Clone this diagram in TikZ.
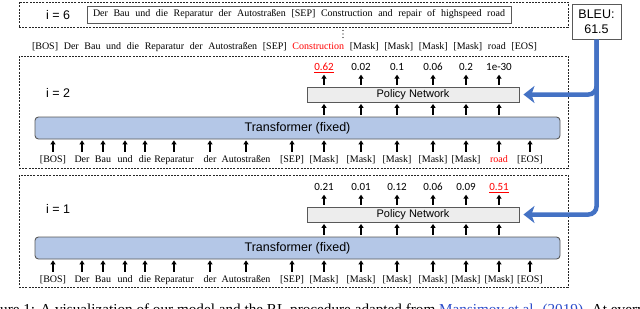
\documentclass[tikz,border=0pt]{standalone}
\usepackage{fontspec}
\setmainfont{Liberation Serif}
\setsansfont{Liberation Sans}
\newfontfamily\probfont{Carlito}
\usetikzlibrary{arrows.meta}
\definecolor{transblue}{HTML}{B4C7E7}
\definecolor{policygray}{HTML}{EDEDED}
\definecolor{boxgray}{HTML}{595959}
\definecolor{bleublue}{HTML}{4472C4}
\definecolor{tokred}{HTML}{FF0000}
\definecolor{citeblue}{HTML}{2A4BC9}

\begin{document}
\begin{tikzpicture}[
  x=1pt, y=-1pt,
  stepframe/.style={
    draw=black!85,
    dash pattern=on 2pt off 1.2pt,
    line width=0.7pt,
    minimum width=549pt,
    inner sep=0pt
  },
  steplabel/.style={
    font=\sffamily\fontsize{12.5}{15}\selectfont,
    inner sep=0pt
  },
  tok/.style={
    font=\fontsize{10}{12}\selectfont,
    inner sep=0pt,
    text height=7pt,
    text depth=2pt,
    anchor=base
  },
  prob/.style={
    font=\probfont\fontsize{11}{13}\selectfont,
    inner sep=1pt,
    text height=7pt,
    text depth=0pt
  },
  transbox/.style={
    draw=boxgray,
    fill=transblue,
    rounded corners=3.5pt,
    line width=0.9pt,
    minimum width=525pt,
    minimum height=22pt,
    font=\sffamily\fontsize{12.5}{15}\selectfont
  },
  policybox/.style={
    draw=boxgray,
    fill=policygray,
    line width=0.9pt,
    minimum width=212pt,
    minimum height=15pt,
    inner sep=0pt,
    font=\sffamily\fontsize{11}{13}\selectfont
  },
  uparrow/.style={
    -{Triangle[length=4pt,width=5pt]},
    line width=1.4pt
  },
  feedback/.style={
    draw=bleublue,
    line width=4.5pt,
    rounded corners=8pt,
    -{Stealth[length=11pt,width=17pt,inset=3pt]},
    shorten >=4pt
  }
]
  \useasboundingbox (0,0) rectangle (640,308);

  % Step i = 6 (final output)
  \node[stepframe, minimum height=25pt] (frame6) at (293.5,14.5) {};
  \node[steplabel] (lab6) at (58,15) {i = 6};
  \node[draw=boxgray, line width=1pt, minimum width=424pt, minimum height=17pt, inner sep=0pt,
        font=\fontsize{10}{12}\selectfont] (final) at (299,14.5)
    {\makebox[412pt][s]{Der Bau und die Reparatur der Autostraßen [SEP] Construction and repair of highspeed road}};

  % Reward box
  \node[draw=boxgray, line width=1pt, minimum width=49pt, minimum height=35pt, inner sep=0pt,
        align=center, font=\sffamily\fontsize{12.5}{15}\selectfont] (bleu) at (596.5,21.5) {BLEU:\\61.5};

  % skipped steps
  \foreach \y in {30.5,34,37.5}
    \fill (343,\y) circle (0.6pt);

  % Sequence after step i = 2
  \node[inner sep=0pt, font=\fontsize{10}{12}\selectfont] (seq) at (284.5,47)
    {\makebox[505pt][s]{[BOS] Der Bau und die Reparatur der Autostraßen [SEP] \textcolor{tokred}{Construction} [Mask] [Mask] [Mask] [Mask] road [EOS]}};

  % Step i = 2
  \node[stepframe, minimum height=112pt] (frame2) at (293.5,112) {};
  \node[steplabel] (lab2) at (58,93) {i = 2};
  \node[transbox] (transA) at (297.5,128) {Transformer (fixed)};
  \node[policybox] (polA) at (413,94.5) {Policy Network};

  \foreach \x/\w [count=\k] in {53/{[BOS]}, 82/Der, 103/Bau, 125/und, 145/die, 174/Reparatur,
      210/der, 246/Autostraßen, 292/{[SEP]}, 324/{[Mask]}, 361/{[Mask]}, 397/{[Mask]},
      433/{[Mask]}, 466/{[Mask]}, 499/{\textcolor{tokred}{road}}, 530/{[EOS]}} {
    \node[tok] (tokA\k) at (\x,162.5) {\w};
    \draw[uparrow, shorten <=3.5pt, shorten >=1pt] (tokA\k.north) -- (tokA\k.north |- transA.south);
  }

  \foreach \x/\p [count=\k] in {324/{\textcolor{tokred}{\underline{0.62}}}, 361/0.02, 397/0.1,
      433/0.06, 466/0.2, 499/1e-30} {
    \node[prob] (probA\k) at (\x,67) {\p};
    \draw[uparrow, shorten <=2pt, shorten >=1.5pt] (probA\k.south |- transA.north) -- (probA\k.south |- polA.south);
    \draw[uparrow, shorten <=2pt, shorten >=3pt] (probA\k.south |- polA.north) -- (probA\k.south);
  }

  % Step i = 1
  \node[stepframe, minimum height=112pt] (frame1) at (293.5,231) {};
  \node[steplabel] (lab1) at (58,209) {i = 1};
  \node[transbox] (transB) at (297.5,248) {Transformer (fixed)};
  \node[policybox] (polB) at (413,214.5) {Policy Network};

  \foreach \x/\w [count=\k] in {53/{[BOS]}, 82/Der, 103/Bau, 125/und, 145/die, 174/Reparatur,
      210/der, 246/Autostraßen, 292/{[SEP]}, 324/{[Mask]}, 361/{[Mask]}, 397/{[Mask]},
      433/{[Mask]}, 466/{[Mask]}, 499/{[Mask]}, 530/{[EOS]}} {
    \node[tok] (tokB\k) at (\x,282.5) {\w};
    \draw[uparrow, shorten <=3.5pt, shorten >=1pt] (tokB\k.north) -- (tokB\k.north |- transB.south);
  }

  \foreach \x/\p [count=\k] in {324/0.21, 361/0.01, 397/0.12, 433/0.06, 466/0.09,
      499/{\textcolor{tokred}{\underline{0.51}}}} {
    \node[prob] (probB\k) at (\x,187) {\p};
    \draw[uparrow, shorten <=2pt, shorten >=1.5pt] (probB\k.south |- transB.north) -- (probB\k.south |- polB.south);
    \draw[uparrow, shorten <=2pt, shorten >=3pt] (probB\k.south |- polB.north) -- (probB\k.south);
  }

  % Reward fed back to both policy networks
  \draw[feedback] (bleu.south) |- (polB.east);
  \draw[feedback] (bleu.south) |- (polA.east);

  % Caption (cut by the page edge)
  \begin{scope}
    \clip (0,0) rectangle (640,308);
    \node[anchor=base west, inner sep=0pt, font=\fontsize{15.2}{18}\selectfont] (caption) at (-20.3,314)
      {Figure 1: A visualization of our model and the RL procedure adapted from \textcolor{citeblue}{Mansimov et al. (2019)}. At every step};
  \end{scope}
\end{tikzpicture}
\end{document}
